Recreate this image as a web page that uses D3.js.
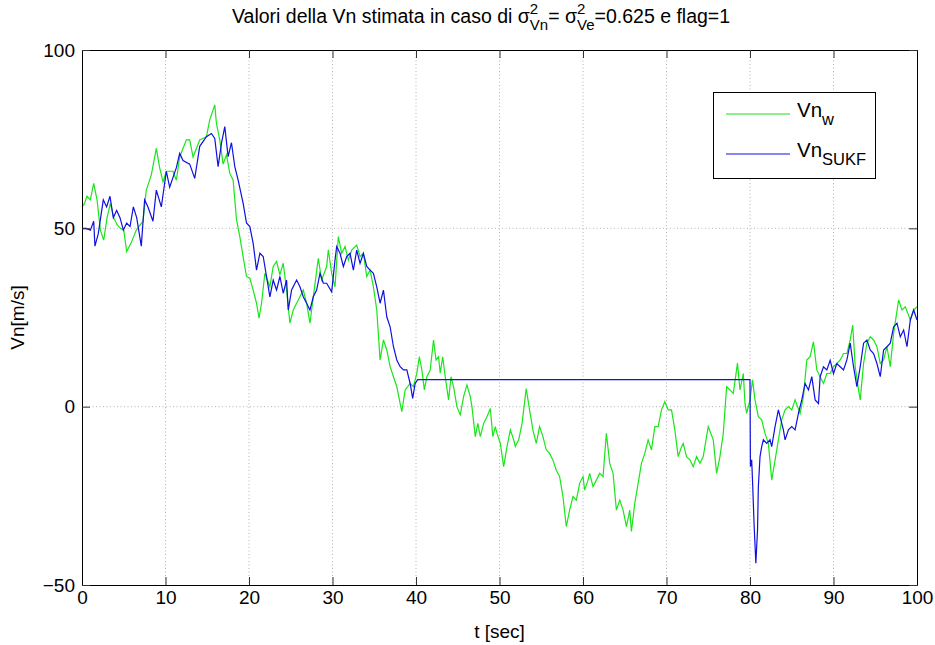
<!DOCTYPE html>
<html>
<head>
<meta charset="utf-8">
<script src="https://cdn.jsdelivr.net/npm/d3@7"></script>
<style>
  body { margin: 0; background: #fff; }
  text { font-family: "Liberation Sans", Arial, sans-serif; fill: #000; }
</style>
</head>
<body>
<svg id="chart" width="935" height="645"></svg>
<script>
// Vn_w (green), time [sec] and values [m/s]
var vnWTime = [0, 0.3, 0.6, 1, 1.4, 1.8, 2.2, 2.6, 3, 3.4, 3.8, 4.2, 4.6, 5, 5.35, 5.9, 6.5, 7.3, 7.7, 8.3,
  8.9, 9.3, 9.7, 10.1, 10.9, 11.3, 11.7, 12.5, 12.9, 13.3, 14.1, 14.9, 15.3, 15.9, 16.1, 16.5, 16.9, 17.3, 17.7, 18.1,
  18.5, 18.9, 19.3, 19.7, 20.1, 20.5, 20.9, 21.2, 21.5, 21.9, 22.5, 22.9, 23.3, 23.7, 24.1, 24.5, 24.9, 25.3, 25.9, 26.5,
  26.9, 27.3, 27.7, 28.3, 28.7, 29.3, 29.5, 29.9, 30.3, 30.7, 31.1, 31.5, 31.9, 32.3, 32.9, 33.3, 33.7, 34.1, 34.5, 34.9,
  35.3, 35.7, 36.1, 36.5, 36.9, 37.3, 37.7, 38.1, 38.3, 38.7, 39.3, 39.7, 40.1, 40.4, 40.7, 41, 41.3, 41.7, 42.1, 42.4,
  42.7, 42.9, 43.2, 43.5, 43.9, 44.2, 44.5, 44.9, 45.3, 45.7, 46.1, 46.5, 46.7, 47.1, 47.4, 47.7, 48.1, 48.5, 48.9, 49.2,
  49.5, 49.7, 50.1, 50.5, 50.9, 51.3, 51.7, 51.9, 52.3, 52.7, 53.2, 53.6, 54, 54.4, 54.8, 55.2, 55.6, 56, 56.4, 56.8,
  57.2, 57.6, 58, 58.4, 58.8, 59.2, 59.6, 60, 60.2, 60.6, 60.8, 61.2, 61.6, 62, 62.4, 62.8, 63.2, 63.6, 64, 64.4,
  64.8, 65.2, 65.6, 65.8, 66.2, 66.6, 67, 67.4, 67.8, 68.2, 68.6, 69, 69.4, 69.8, 70.2, 70.6, 71, 71.4, 71.8, 72,
  72.4, 72.8, 73.2, 73.6, 74, 74.4, 75, 75.6, 76, 76.4, 76.8, 77.2, 77.6, 78, 78.5, 78.8, 79.2, 79.4, 79.6, 80,
  80.3, 80.6, 81, 81.4, 81.8, 82.2, 82.6, 83, 83.4, 83.8, 84.2, 84.6, 85, 85.4, 86, 86.4, 86.8, 87.2, 87.6, 88,
  88.4, 88.8, 89.2, 89.6, 90, 90.4, 90.8, 91.2, 91.6, 92, 92.3, 92.6, 93, 93.2, 93.6, 94, 94.4, 94.8, 95.2, 95.6,
  96, 96.4, 96.8, 97.2, 97.8, 98.2, 98.6, 99.2, 99.6, 100];
var vnWValues = [56, 57, 59, 58, 62.6, 58, 49.5, 46.7, 53, 57, 53, 51, 50, 49.5, 43.5, 46, 49.5, 52, 60.7, 65,
  72.4, 67, 63, 66, 66, 63.5, 70, 74.8, 74.8, 70, 74.8, 75.7, 80.4, 84.6, 79.4, 74.8, 68, 70.6, 65.4, 63.5,
  52.5, 47.7, 42, 36.5, 36, 32.7, 29, 24.8, 29, 37.4, 33.6, 39.3, 40.7, 37, 40.2, 32.7, 23.4, 27.1, 29.9, 32.7,
  29, 23.4, 30.8, 41.6, 35.5, 39.3, 44, 37.4, 33.6, 47.7, 43, 44.9, 41.1, 43.9, 45.3, 42.1, 43, 36.5, 38.3, 33.6,
  27.1, 13.1, 18.7, 15.9, 11.2, 8.4, 5.6, 0.9, -1.4, 4.7, 6.5, 5.6, 9.4, 14, 10.3, 4.7, 8.4, 10.3, 18.7, 13.1,
  14, 9.4, 14, 8.4, 1.9, 8.4, 5.6, 0, -2.3, 2.8, 6.1, 2.8, 0, -8.4, -4.7, -8.4, -4.7, -2.8, -0.5, -8.4,
  -5.6, -7.5, -10.3, -16.8, -11.2, -6.5, -9.3, -11.2, -9.3, -4.7, 5.1, -0.9, -6.5, -10.3, -5.6, -8.4, -12.1, -13.1, -15, -17.8,
  -19.6, -25.2, -33.6, -29, -25.2, -26.2, -21.5, -19.6, -23.4, -20.6, -18.7, -22.4, -20.6, -18.7, -19.6, -7.5, -15.9, -18.7, -29, -26.2,
  -29, -33.6, -29, -35, -27.1, -21.5, -15.9, -13.1, -9.3, -12.1, -5.6, -5.6, -0.9, 1.4, -0.9, -0.9, -6.5, -14, -11.2, -10.3,
  -14, -14.9, -16.8, -14, -15.9, -14, -5.6, -9.3, -18.7, -14, -7.5, 5.6, 4.7, 3.7, 12.2, 4.7, 9.3, 0.9, -1.9, 1.9,
  7.5, 1.9, -2.8, -3.7, -7.5, -10.3, -20.6, -15, -9.3, -3.7, -0.9, 0, -0.9, 1.9, -1.9, 2.8, 13.1, 14, 18.2, 10.3,
  8.4, 6.5, 9.3, 9.3, 11.2, 12.1, 13.1, 14.9, 14.9, 18.7, 22.9, 11.2, 4.7, 1.9, 12.1, 17.8, 19.6, 18.7, 16.8, 12.1,
  13.1, 16.8, 11.2, 20.6, 29.9, 27.1, 28, 24.3, 27.1, 28];

// Vn_SUKF (blue)
var vnSukfTime = [0, 0.5, 1, 1.4, 1.55, 1.95, 2.55, 2.95, 3.35, 3.75, 4.15, 4.55, 4.95, 5.35, 5.75, 6.15, 6.55, 7.1, 7.5, 7.9,
  8.5, 8.9, 9.5, 10.1, 10.5, 11.3, 11.7, 12.1, 12.9, 13.5, 14.1, 14.9, 15.5, 15.9, 16.3, 16.7, 17.1, 17.5, 17.9, 18.3,
  18.7, 19.3, 19.7, 20.1, 20.5, 20.9, 21.3, 21.7, 22.1, 22.5, 22.9, 23.3, 23.7, 24.1, 24.5, 24.7, 25.1, 25.7, 26.1, 26.5,
  26.9, 27.3, 27.7, 28.1, 28.5, 28.9, 29.3, 29.9, 30.3, 30.5, 30.9, 31.3, 31.7, 32.1, 32.5, 32.9, 33.3, 33.7, 34.1, 34.5,
  34.9, 35.3, 35.7, 36.1, 36.5, 36.9, 37.3, 37.7, 38.1, 38.5, 38.9, 39.3, 39.6, 39.9, 40.2, 80, 80.05, 80.2, 80.3, 80.5,
  80.7, 80.9, 81, 81.2, 81.4, 81.6, 82, 82.4, 82.6, 83, 83.4, 83.6, 84, 84.2, 84.6, 85, 85.4, 85.8, 86.2, 86.6,
  87, 87.4, 87.8, 88.2, 88.4, 88.8, 89.2, 89.6, 90, 90.4, 90.8, 91.2, 91.6, 92, 92.4, 92.8, 93.2, 93.6, 94, 94.4,
  94.8, 95.2, 95.6, 96, 96.4, 96.8, 97.2, 97.6, 98, 98.4, 98.8, 99.2, 99.6, 100];
var vnSukfValues = [50, 50, 49.5, 52, 45, 48.5, 58, 56, 59, 53, 55, 53, 49.5, 51.5, 50.5, 56, 53, 45, 58, 56,
  52, 60.7, 56, 66, 61.5, 67, 71, 69, 68, 64, 73, 75.7, 76.6, 75.2, 67.3, 73.8, 78.5, 70.1, 74, 67.3,
  63.5, 57, 51.5, 50.5, 45.8, 38.3, 43, 42.1, 36.5, 30.8, 35.5, 32.7, 36.5, 31.8, 35.5, 27.1, 32.7, 35.5, 33.6, 30.8,
  29, 27.1, 30.8, 32.7, 37.4, 34.6, 34.6, 32.2, 41.1, 44.9, 43, 39.3, 42.1, 43, 38.3, 43.9, 40.2, 43, 39.3, 38.3,
  37.4, 33.6, 29, 32.7, 25.2, 22.4, 16.8, 13.1, 11.2, 10.3, 10.3, 6.5, 2.3, 6.5, 7.6, 7.6, -16.8, -14.9, -20.6, -33.6,
  -43.9, -34.6, -22.4, -14, -11.2, -9.3, -10.3, -9.3, -11.2, -5.6, -0.9, -2.8, -6.5, -9.3, -6.5, -5.6, -6.5, -1.9, 1.9, 6.5,
  4.7, 8.4, 1.9, 0.9, 8.4, 11.2, 10.3, 13, 9.3, 12.1, 11.2, 10.3, 13.1, 17.8, 11.2, 5.6, 11.2, 17.8, 18.7, 15.9,
  14.9, 12.1, 8.4, 15.9, 16.8, 17.8, 22.4, 23.4, 19.6, 21.5, 16.8, 24.3, 27.1, 24.3];

var xTicks = [0, 10, 20, 30, 40, 50, 60, 70, 80, 90, 100];
var yTicks = [-50, 0, 50, 100];

var margin = { left: 82, top: 50, right: 18, bottom: 60 };
var W = 935, H = 645;
var w = W - margin.left - margin.right;
var h = H - margin.top - margin.bottom;

var svg = d3.select("#chart");
var g = svg.append("g").attr("transform", "translate(" + margin.left + "," + margin.top + ")");

var x = d3.scaleLinear().domain([0, 100]).range([0, w]);
var y = d3.scaleLinear().domain([-50, 100]).range([h, 0]);

// grid
g.append("g").selectAll("line")
  .data(xTicks.filter(d => d > 0 && d < 100))
  .join("line")
  .attr("x1", d => x(d)).attr("x2", d => x(d))
  .attr("y1", 0).attr("y2", h)
  .attr("stroke", "#b4b4b4").attr("stroke-dasharray", "1,2.5");
g.append("g").selectAll("line")
  .data(yTicks.filter(d => d > -50 && d < 100))
  .join("line")
  .attr("y1", d => y(d)).attr("y2", d => y(d))
  .attr("x1", 0).attr("x2", w)
  .attr("stroke", "#b4b4b4").attr("stroke-dasharray", "1,2.5");

// lines
var line = d3.line().x(d => x(d[0])).y(d => y(d[1]));
var greenPts = vnWTime.map((t, i) => [t, vnWValues[i]]);
var bluePts = vnSukfTime.map((t, i) => [t, vnSukfValues[i]]);

g.append("path").datum(greenPts)
  .attr("d", line).attr("fill", "none")
  .attr("stroke", "#19e619").attr("stroke-width", 1.2);
g.append("path").datum(bluePts)
  .attr("d", line).attr("fill", "none")
  .attr("stroke", "#1010e0").attr("stroke-width", 1.2);

// axes
function styleAxis(sel) {
  sel.select(".domain").attr("stroke", "#000");
  sel.selectAll(".tick line").attr("stroke", "#333");
  sel.selectAll(".tick text").attr("font-size", 19).attr("font-family", "Liberation Sans, Arial, sans-serif");
}
g.append("g").attr("transform", "translate(0," + h + ")")
  .call(d3.axisBottom(x).tickValues(xTicks).tickSize(-8).tickSizeOuter(0).tickPadding(6))
  .call(styleAxis);
g.append("g")
  .call(d3.axisTop(x).tickValues(xTicks).tickSize(-8).tickSizeOuter(0).tickFormat(""))
  .call(styleAxis);
g.append("g")
  .call(d3.axisLeft(y).tickValues(yTicks).tickSize(-8).tickSizeOuter(0).tickPadding(7))
  .call(styleAxis);
g.append("g").attr("transform", "translate(" + w + ",0)")
  .call(d3.axisRight(y).tickValues(yTicks).tickSize(-8).tickSizeOuter(0).tickFormat(""))
  .call(styleAxis);

// axis labels
svg.append("text").attr("x", margin.left + w / 2).attr("y", 638)
  .attr("text-anchor", "middle").attr("font-size", 19).text("t [sec]");
svg.append("text").attr("transform", "translate(24," + (margin.top + h / 2) + ") rotate(-90)")
  .attr("text-anchor", "middle").attr("font-size", 19).text("Vn[m/s]");

// title with stacked super/subscripts
var tg = svg.append("g").attr("transform", "translate(0,23)");
var cx = 232;
function piece(txt, dy, size) {
  var t = tg.append("text").attr("x", cx).attr("y", dy).attr("font-size", size).text(txt);
  return t.node().getComputedTextLength();
}
cx += piece("Valori della Vn stimata in caso di \u03c3", 0, 19.5);
var a = piece("2", -9, 15), b = piece("Vn", 7, 15);
cx += Math.max(a, b);
cx += piece("= \u03c3", 0, 19.5);
a = piece("2", -9, 15); b = piece("Ve", 7, 15);
cx += Math.max(a, b);
cx += piece("=0.625 e flag=1", 0, 19.5);

// legend
var lg = svg.append("g");
lg.append("rect").attr("x", 713.5).attr("y", 92.5).attr("width", 162).attr("height", 86)
  .attr("fill", "#fff").attr("stroke", "#000");
var legendItems = [
  { name: "Vn", sub: "w", color: "#19e619", yy: 114 },
  { name: "Vn", sub: "SUKF", color: "#1010e0", yy: 154 }
];
legendItems.forEach(function (d) {
  lg.append("line").attr("x1", 726).attr("x2", 790).attr("y1", d.yy).attr("y2", d.yy)
    .attr("stroke", d.color).attr("stroke-width", 1.2);
  var t = lg.append("text").attr("x", 797).attr("y", d.yy + 3).attr("font-size", 20.5);
  t.append("tspan").text(d.name);
  t.append("tspan").attr("dy", 8).attr("font-size", 16.5).text(d.sub);
});
</script>
</body>
</html>
